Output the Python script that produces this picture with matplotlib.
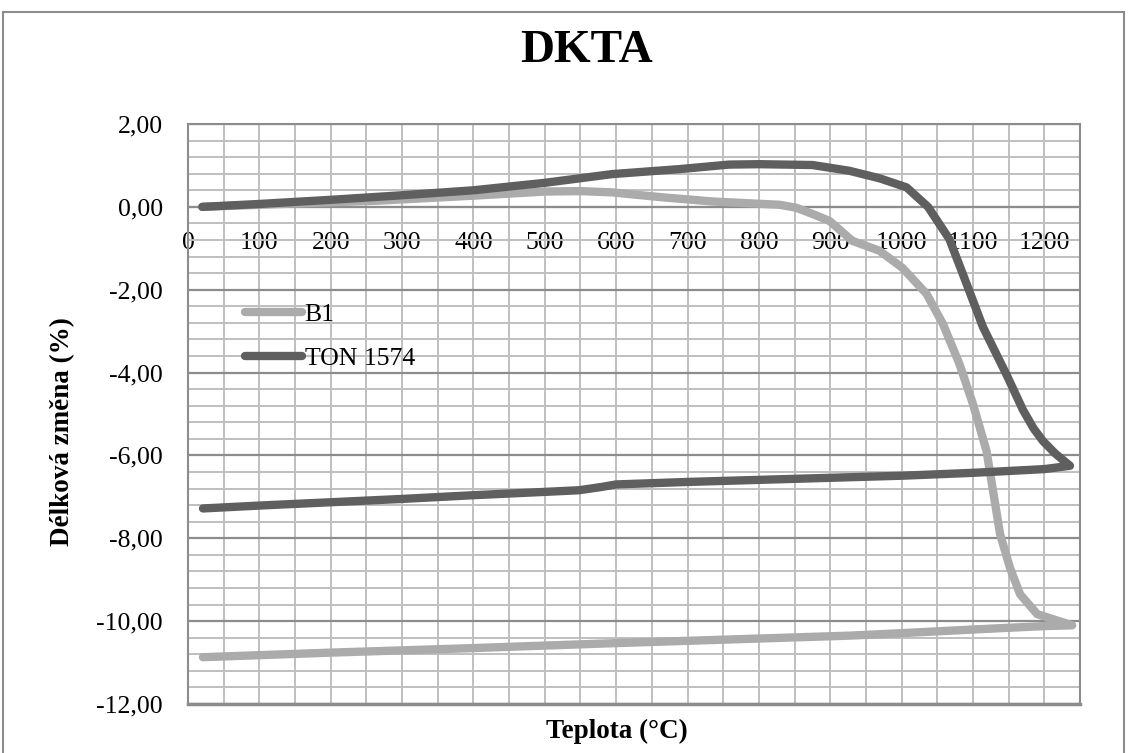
import matplotlib.pyplot as plt
from matplotlib.ticker import MultipleLocator, FuncFormatter
from matplotlib.patches import Rectangle

# Data (temperature in °C, length change in %)
b1_t_heat = [20, 100, 200, 267, 400, 501, 550, 594, 665, 735, 829, 852, 875, 899, 931,
             969, 1001, 1035, 1058, 1081, 1100, 1119, 1138, 1152, 1166, 1190, 1239]
b1_v_heat = [0.0, 0.05, 0.11, 0.15, 0.27, 0.37, 0.38, 0.35, 0.23, 0.13, 0.05, -0.02, -0.17,
             -0.34, -0.82, -1.06, -1.47, -2.10, -2.83, -3.79, -4.76, -5.89, -7.90, -8.72,
             -9.35, -9.83, -10.10]
b1_t_cool = [1200, 1114, 1000, 927, 800, 600, 400, 200, 21]
b1_v_cool = [-10.12, -10.19, -10.29, -10.35, -10.42, -10.53, -10.65, -10.76, -10.87]

ton_t_heat = [20, 100, 200, 300, 400, 500, 594, 688, 758, 800, 875, 927, 969, 1007, 1037,
              1067, 1086, 1114, 1147, 1170, 1185, 1198, 1215, 1236]
ton_v_heat = [0.0, 0.07, 0.17, 0.28, 0.40, 0.58, 0.79, 0.91, 1.02, 1.03, 1.01, 0.87, 0.69,
              0.47, 0.0, -0.78, -1.63, -2.90, -4.05, -4.90, -5.35, -5.65, -5.95, -6.25]
ton_t_cool = [1200, 1100, 1000, 900, 800, 700, 600, 580, 548, 500, 400, 300, 200, 100, 21]
ton_v_cool = [-6.33, -6.42, -6.49, -6.54, -6.59, -6.64, -6.70, -6.76, -6.84, -6.88, -6.96,
              -7.05, -7.13, -7.21, -7.28]

plt.rcParams['font.family'] = 'Liberation Serif'

fig = plt.figure(figsize=(11.28, 7.53), dpi=100)
ax = fig.add_axes([188 / 1128, 1 - 704 / 753, 892 / 1128, 580 / 753])

# rámeček grafu
fig.patches.append(Rectangle((3 / 1128, -0.1), 1121 / 1128, 1.1 - 12 / 753,
                             transform=fig.transFigure, fill=False,
                             edgecolor='#8c8c8c', linewidth=1.5))

ax.plot(b1_t_heat + b1_t_cool, b1_v_heat + b1_v_cool, color='#ababab', linewidth=6,
        solid_capstyle='round', solid_joinstyle='round', label='B1', zorder=3)
ax.plot(ton_t_heat + ton_t_cool, ton_v_heat + ton_v_cool, color='#5f5f5f', linewidth=6,
        solid_capstyle='round', solid_joinstyle='round', label='TON 1574', zorder=4)

ax.set_xlim(0, 1250)
ax.set_ylim(-12, 2)
ax.xaxis.set_major_locator(MultipleLocator(100))
ax.xaxis.set_minor_locator(MultipleLocator(50))
ax.yaxis.set_major_locator(MultipleLocator(2))
ax.yaxis.set_minor_locator(MultipleLocator(0.4))
ax.yaxis.set_major_formatter(FuncFormatter(lambda v, p: f"{v:.2f}".replace('.', ',')))
ax.xaxis.set_major_formatter(FuncFormatter(lambda v, p: f"{v:.0f}" if v <= 1200 else ""))

ax.grid(which='minor', axis='both', color='#bfbfbf', linewidth=1.4)
ax.grid(which='major', axis='x', color='#bfbfbf', linewidth=1.4)
ax.grid(which='major', axis='y', color='#8c8c8c', linewidth=1.6)
ax.set_axisbelow(True)

for s in ax.spines.values():
    s.set_color('#8c8c8c')
    s.set_linewidth(1.5)
ax.spines['bottom'].set_position(('data', 0))
ax.axhline(-12, color='#8c8c8c', linewidth=2.5, clip_on=False, zorder=1)

ax.tick_params(which='both', length=0)
ax.tick_params(axis='x', labelsize=18.5, pad=18)
ax.tick_params(axis='y', labelsize=18.5, pad=18)

ax.legend(loc='upper left', bbox_to_anchor=(0.05, 0.713), frameon=False, fontsize=18.5,
          handlelength=2.2, handletextpad=0.1, labelspacing=0.82, borderpad=0)

fig.text(587 / 1128, 1 - 51 / 753, 'DKTA', fontsize=34, fontweight='bold',
         ha='center', va='center')
fig.text(617 / 1128, 1 - 731 / 753, 'Teplota (°C)', fontsize=19.5, fontweight='bold',
         ha='center', va='center')
fig.text(63 / 1128, 1 - 432 / 753, 'Délková změna (%)', fontsize=19.5, fontweight='bold',
         ha='center', va='center', rotation=90)

fig.savefig('out.png', dpi=100)
